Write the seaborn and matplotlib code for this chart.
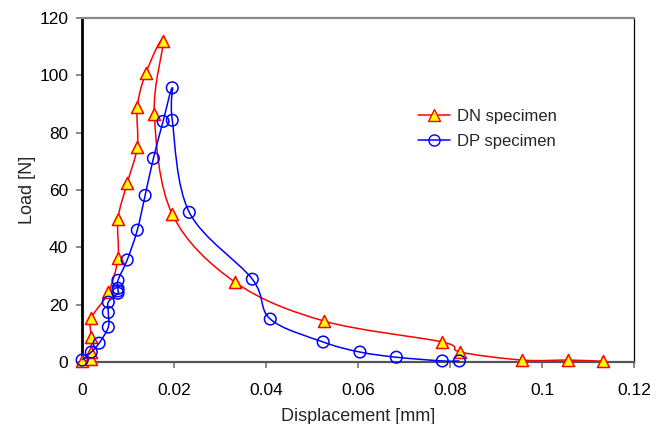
import numpy as np
import pandas as pd
import matplotlib
matplotlib.use("Agg")
import matplotlib.pyplot as plt
import seaborn as sns
from matplotlib.path import Path
from matplotlib.patches import PathPatch
from matplotlib.lines import Line2D

# ---- data ----
dn_x = [0.0, 0.002, 0.002, 0.002, 0.002, 0.0057, 0.0078, 0.0078, 0.0098, 0.012,
        0.012, 0.0139, 0.0176, 0.0157, 0.0196, 0.0333, 0.0526, 0.0783, 0.0822,
        0.0957, 0.1057, 0.1133]
dn_y = [0.3, 1.0, 3.5, 8.7, 15.3, 24.3, 36.3, 50.0, 62.3, 75.1,
        89.0, 100.9, 112.0, 86.6, 51.5, 27.8, 14.3, 7.0, 3.5,
        0.7, 0.7, 0.3]

dp_x = [0.0, 0.002, 0.0037, 0.0057, 0.0057, 0.0057, 0.0078, 0.0078, 0.0078,
        0.0078, 0.0098, 0.012, 0.0137, 0.0155, 0.0176, 0.0196, 0.0196, 0.0233,
        0.037, 0.0409, 0.0524, 0.0604, 0.0683, 0.0783, 0.082]
dp_y = [0.7, 3.5, 6.6, 12.2, 17.3, 20.9, 24.0, 24.8, 25.7, 28.5,
        35.6, 46.0, 58.1, 71.0, 83.9, 95.6, 84.3, 52.2,
        28.9, 15.0, 7.0, 3.5, 1.7, 0.4, 0.4]

x_ticks = [0, 0.02, 0.04, 0.06, 0.08, 0.1, 0.12]
x_tick_labels = ["0", "0.02", "0.04", "0.06", "0.08", "0.1", "0.12"]
y_ticks = [0, 20, 40, 60, 80, 100, 120]

sns.set_style("white")
plt.rcParams['font.family'] = ['Liberation Sans', 'DejaVu Sans']

fig = plt.figure(figsize=(6.62, 4.24), dpi=100)
ax = fig.add_axes([0.124, 0.146, 0.834, 0.812])


def smooth_path(xs, ys):
    pts = np.column_stack([xs, ys]).astype(float)
    n = len(pts)
    verts = [pts[0]]
    codes = [Path.MOVETO]
    for i in range(n - 1):
        p0 = pts[i - 1] if i > 0 else pts[i]
        p1 = pts[i]
        p2 = pts[i + 1]
        p3 = pts[i + 2] if i + 2 < n else pts[i + 1]
        c1 = p1 + (p2 - p0) / 6.0
        c2 = p2 - (p3 - p1) / 6.0
        verts += [c1, c2, p2]
        codes += [Path.CURVE4] * 3
    return Path(verts, codes)


red = "#FF0000"
blue = "#0000FF"

ax.add_patch(PathPatch(smooth_path(dn_x, dn_y), facecolor="none",
                       edgecolor=red, lw=1.1, transform=ax.transData, zorder=2))
df_dn = pd.DataFrame({"x": dn_x, "y": dn_y})
sns.scatterplot(data=df_dn, x="x", y="y", marker="^", s=75, color="#FFFF00",
                edgecolor=red, linewidth=1.1, ax=ax, zorder=3, clip_on=False)

ax.add_patch(PathPatch(smooth_path(dp_x, dp_y), facecolor="none",
                       edgecolor=blue, lw=1.1, transform=ax.transData, zorder=4))
df_dp = pd.DataFrame({"x": dp_x, "y": dp_y})
sns.scatterplot(data=df_dp, x="x", y="y", marker="o", s=70, facecolor="none",
                edgecolor=blue, linewidth=1.1, ax=ax, zorder=5, clip_on=False)

ax.set_xlim(0, 0.12)
ax.set_ylim(0, 120)
ax.set_xticks(x_ticks)
ax.set_xticklabels(x_tick_labels)
ax.set_yticks(y_ticks)
ax.tick_params(axis="both", which="major", direction="out", length=4, width=1.2,
               color="#777777", labelsize=12.5, labelcolor="black",
               bottom=True, left=True)
ax.tick_params(axis="x", pad=11)
ax.tick_params(axis="y", pad=6)
ax.set_xlabel("Displacement [mm]", fontsize=13, labelpad=7)
ax.set_ylabel("Load [N]", fontsize=13, labelpad=2)

for side in ["top", "right", "left", "bottom"]:
    ax.spines[side].set_visible(True)
ax.spines["left"].set_color("black")
ax.spines["left"].set_linewidth(2.0)
ax.spines["bottom"].set_color("#555555")
ax.spines["bottom"].set_linewidth(1.6)
ax.spines["top"].set_color("#888888")
ax.spines["top"].set_linewidth(1.6)
ax.spines["right"].set_color("black")
ax.spines["right"].set_linewidth(0.9)

handles = [
    Line2D([], [], color=red, lw=1.1, marker="^", markersize=8.5,
           markerfacecolor="#FFFF00", markeredgecolor=red),
    Line2D([], [], color=blue, lw=1.1, marker="o", markersize=8,
           markerfacecolor="none", markeredgecolor=blue),
]
leg = ax.legend(handles, ["DN specimen", "DP specimen"], frameon=False,
                loc="upper left", bbox_to_anchor=(0.609, 0.736), fontsize=12,
                handlelength=1.9, handletextpad=0.4, labelspacing=0.6,
                borderaxespad=0, borderpad=0)

fig.savefig("out.png", dpi=100)
